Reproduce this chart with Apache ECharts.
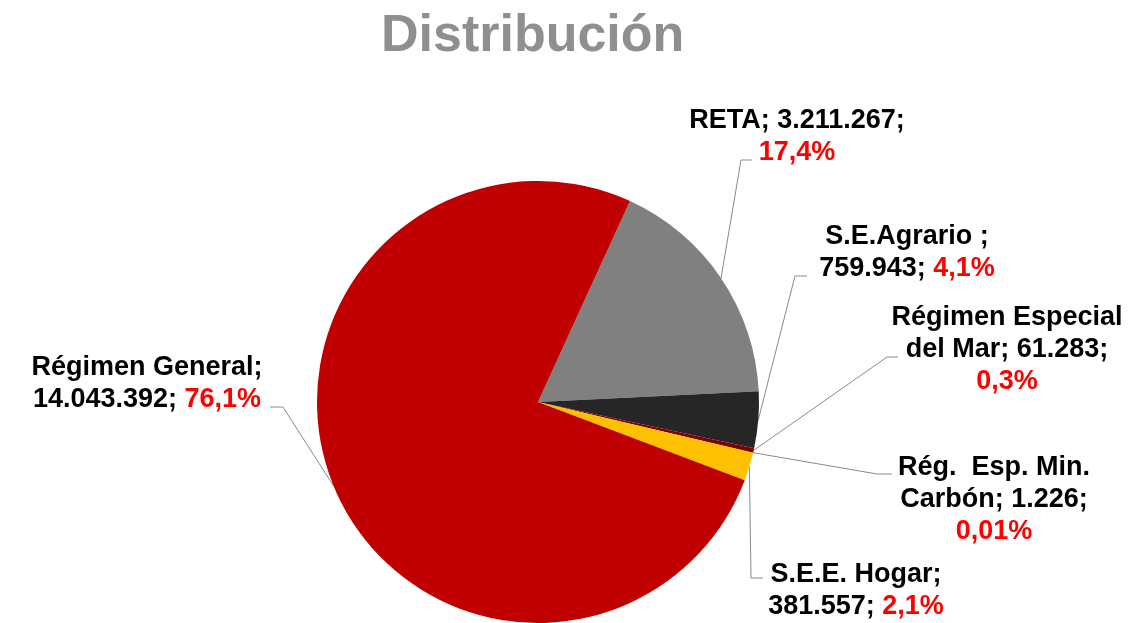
<!DOCTYPE html>
<html>
<head>
<meta charset="utf-8">
<script src="https://cdn.jsdelivr.net/npm/echarts@6/dist/echarts.min.js"></script>
<style>
html,body{margin:0;padding:0;background:#ffffff;}
#chart{width:1138px;height:623px;}
</style>
</head>
<body>
<div id="chart"></div>
<script>
// ---- data ----
const categories = ['RETA', 'S.E.Agrario ', 'Régimen Especial\ndel Mar', 'Rég.  Esp. Min.\nCarbón', 'S.E.E. Hogar', 'Régimen General'];
const values = [3211267, 759943, 61283, 1226, 381557, 14043392];
const percentLabels = ['17,4%', '4,1%', '0,3%', '0,01%', '2,1%', '76,1%'];

// ---- styling / layout (not data) ----
const colors = ['#808080', '#262626', '#7f0000', '#ff0000', '#ffc000', '#c00000'];
const FONT = '"Liberation Sans", Arial, sans-serif';
const labelLayouts = [
  { x: 797,  y: 137, tpl: 'A', bend: [741, 160], end: [752, 160] },
  { x: 907,  y: 253, tpl: 'B', bend: [795, 276], end: [807, 276] },
  { x: 1007, y: 350, tpl: 'A', bend: [887, 357], end: [898, 357] },
  { x: 994,  y: 500, tpl: 'A', bend: [877, 474], end: [892, 474] },
  { x: 856,  y: 591, tpl: 'B', bend: [751, 578], end: [763, 578] },
  { x: 147,  y: 384, tpl: 'B', bend: [283, 407], end: [270, 407] }
];

function fmtNum(v) {
  return String(v).replace(/\B(?=(\d{3})+(?!\d))/g, '.');
}

const pieData = categories.map((c, i) => ({
  name: c,
  value: values[i],
  itemStyle: { color: colors[i] }
}));

const chart = echarts.init(document.getElementById('chart'), null, { renderer: 'canvas' });
chart.setOption({
  animation: false,
  backgroundColor: '#ffffff',
  title: {
    text: 'Distribución',
    left: 381,
    top: 11,
    padding: 0,
    textStyle: { color: '#8f8f8f', fontSize: 52, fontWeight: 'bold', fontFamily: FONT }
  },
  series: [{
    type: 'pie',
    center: [538, 402],
    radius: 221,
    startAngle: 65.4,
    clockwise: true,
    avoidLabelOverlap: false,
    data: pieData,
    itemStyle: { borderWidth: 0 },
    emphasis: { disabled: true },
    label: {
      show: true,
      position: 'outside',
      overflow: 'none',
      color: '#000000',
      fontWeight: 'bold',
      fontSize: 27,
      lineHeight: 32,
      fontFamily: FONT,
      formatter: function (p) {
        const i = p.dataIndex;
        const n = categories[i];
        const v = fmtNum(values[i]);
        const pc = '{p|' + percentLabels[i] + '}';
        if (labelLayouts[i].tpl === 'A') return n + '; ' + v + ';\n' + pc;
        return n + ';\n' + v + '; ' + pc;
      },
      rich: {
        p: { color: '#ff0000', fontWeight: 'bold', fontSize: 27, lineHeight: 32, fontFamily: FONT }
      }
    },
    labelLine: {
      show: true,
      smooth: false,
      lineStyle: { color: '#8a8a8a', width: 1 }
    },
    labelLayout: function (params) {
      const L = labelLayouts[params.dataIndex];
      const pts = params.labelLinePoints;
      const start = pts ? pts[0] : L.bend;
      return {
        x: L.x,
        y: L.y,
        align: 'center',
        verticalAlign: 'middle',
        labelLinePoints: [start, L.bend, L.end]
      };
    }
  }]
});
</script>
</body>
</html>
